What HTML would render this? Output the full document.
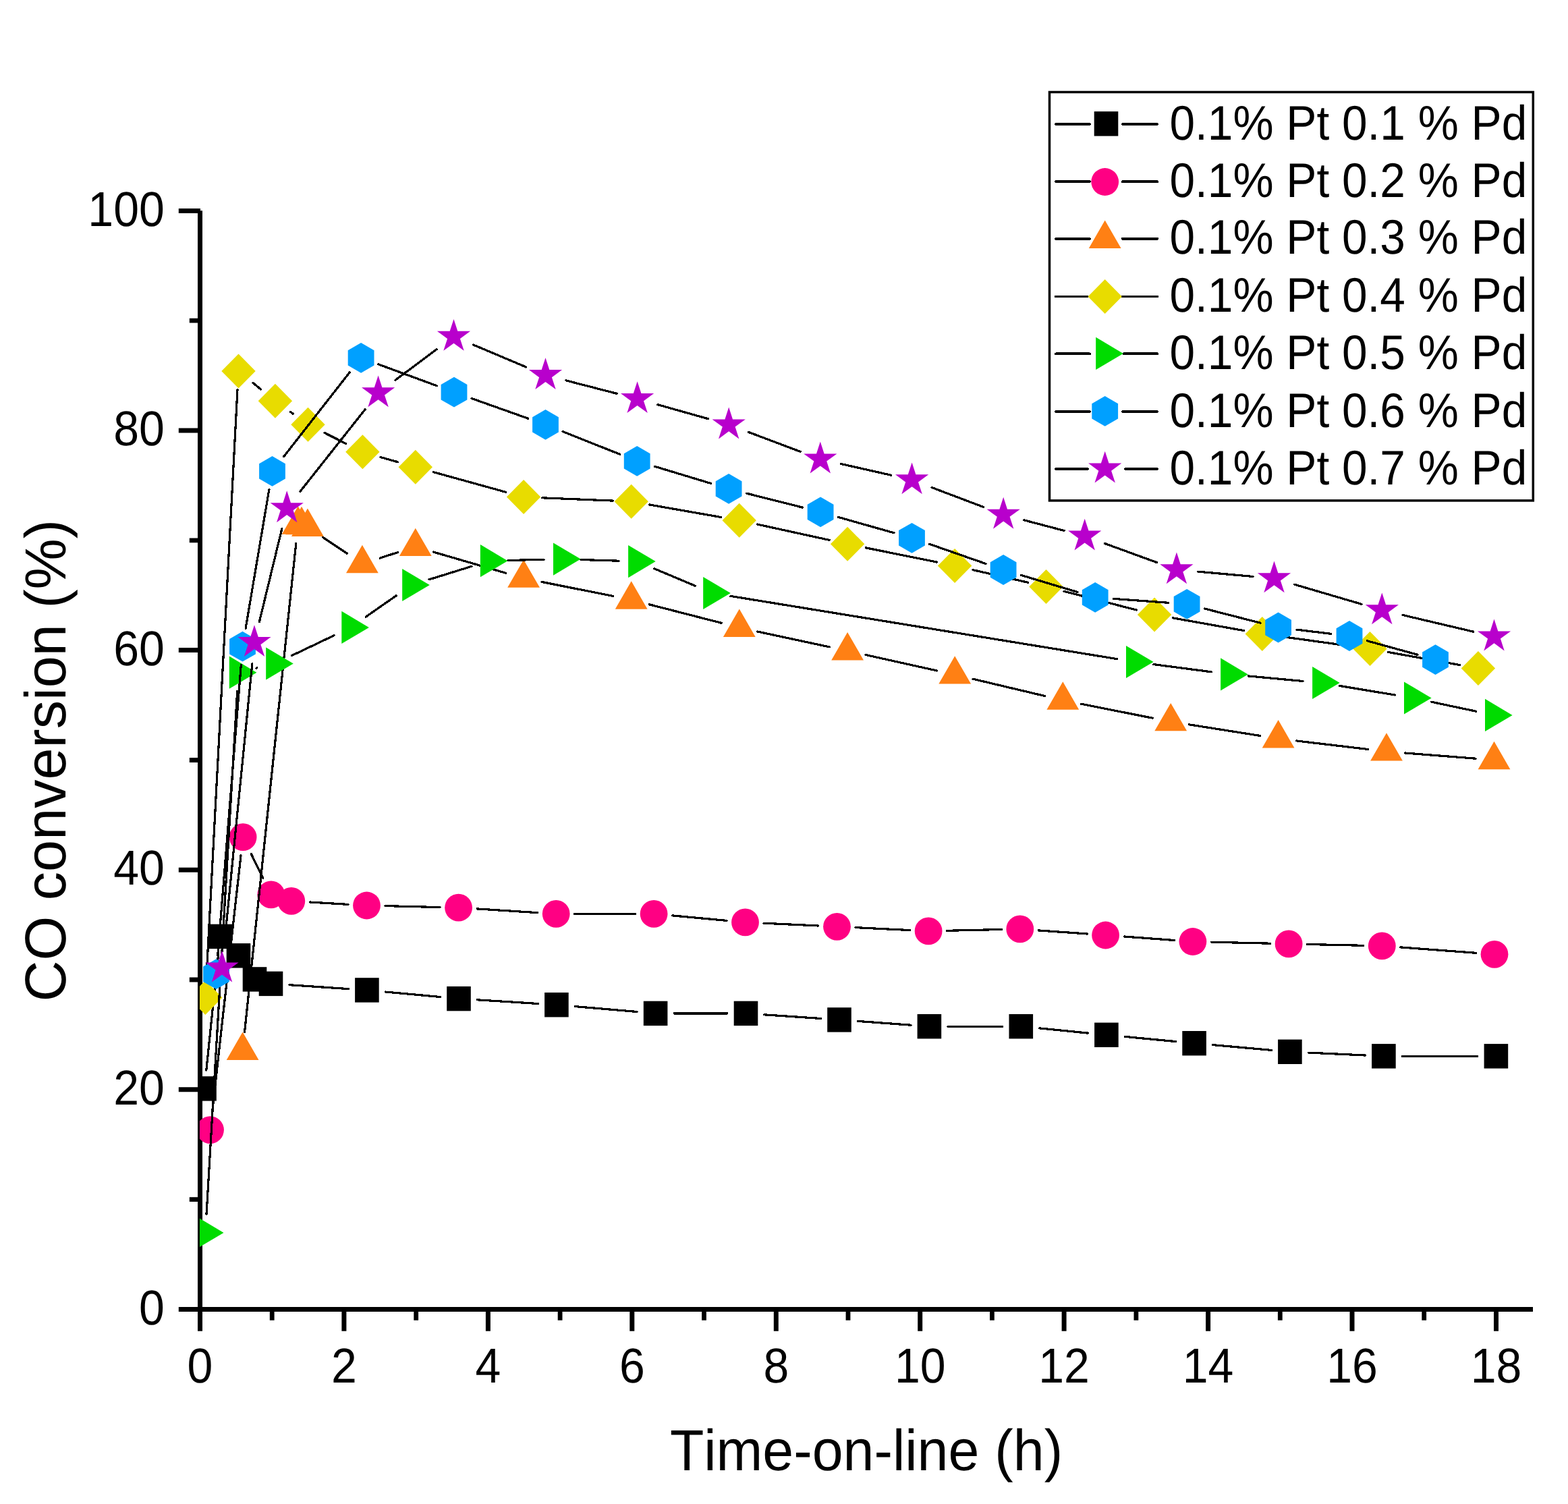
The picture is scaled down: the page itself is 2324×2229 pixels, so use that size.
<!DOCTYPE html>
<html lang="en">
<head>
<meta charset="utf-8">
<title>CO conversion vs Time-on-line</title>
<style>
html,body{margin:0;padding:0;background:#fff;}
body{width:2324px;height:2229px;overflow:hidden;}
svg{display:block;}
svg text{font-family:"Liberation Sans", Arial, Helvetica, sans-serif;fill:#000;font-kerning:none;font-variant-ligatures:none;text-rendering:geometricPrecision;}
</style>
</head>
<body>
<svg width="2324" height="2229" viewBox="0 0 2324 2229" role="img" aria-label="CO conversion versus time-on-line">
<rect x="0" y="0" width="2324" height="2229" fill="#fff"/>
<defs><clipPath id="plotclip"><rect x="296" y="300" width="1980" height="1644"/></clipPath></defs>
<g id="axes">
<path d="M296.5 312.3V1972.8M264.8 1940.4H2272M264.8 1614.8H297M264.8 1289.2H297M264.8 963.6H297M264.8 638H297M264.8 312.5H297M509.9 1940.4V1972.8M723.4 1940.4V1972.8M936.8 1940.4V1972.8M1150.3 1940.4V1972.8M1363.7 1940.4V1972.8M1577.1 1940.4V1972.8M1790.6 1940.4V1972.8M2004 1940.4V1972.8M2217.5 1940.4V1972.8" fill="none" stroke="#000" stroke-width="7.0" stroke-linecap="butt"/>
<path d="M280.8 1777.7H296.5M280.8 1452H296.5M280.8 1126.5H296.5M280.8 800.8H296.5M280.8 475.2H296.5M403.2 1940.4V1956.8M616.7 1940.4V1956.8M830.1 1940.4V1956.8M1043.5 1940.4V1956.8M1257 1940.4V1956.8M1470.4 1940.4V1956.8M1683.9 1940.4V1956.8M1897.3 1940.4V1956.8M2110.7 1940.4V1956.8" fill="none" stroke="#000" stroke-width="6.8" stroke-linecap="butt"/>
</g>
<g id="ticklabels" font-size="68">
<text transform="translate(243.8 1962.5) scale(1 1.067)" text-anchor="end">0</text>
<text transform="translate(243.8 1636.8) scale(1 1.067)" text-anchor="end">20</text>
<text transform="translate(243.8 1311.2) scale(1 1.067)" text-anchor="end">40</text>
<text transform="translate(243.8 985.6) scale(1 1.067)" text-anchor="end">60</text>
<text transform="translate(243.8 660) scale(1 1.067)" text-anchor="end">80</text>
<text transform="translate(243.8 334.5) scale(1 1.067)" text-anchor="end">100</text>
<text transform="translate(296.5 2049.4) scale(1 1.067)" text-anchor="middle">0</text>
<text transform="translate(509.9 2049.4) scale(1 1.067)" text-anchor="middle">2</text>
<text transform="translate(723.4 2049.4) scale(1 1.067)" text-anchor="middle">4</text>
<text transform="translate(936.8 2049.4) scale(1 1.067)" text-anchor="middle">6</text>
<text transform="translate(1150.3 2049.4) scale(1 1.067)" text-anchor="middle">8</text>
<text transform="translate(1363.7 2049.4) scale(1 1.067)" text-anchor="middle">10</text>
<text transform="translate(1577.1 2049.4) scale(1 1.067)" text-anchor="middle">12</text>
<text transform="translate(1790.6 2049.4) scale(1 1.067)" text-anchor="middle">14</text>
<text transform="translate(2004 2049.4) scale(1 1.067)" text-anchor="middle">16</text>
<text transform="translate(2217.5 2049.4) scale(1 1.067)" text-anchor="middle">18</text>
</g>
<g id="titles" font-size="83">
<text transform="translate(1284.0 2178.9) scale(1 1.04)" text-anchor="middle" font-size="82.5">Time-on-line (h)</text>
<text transform="translate(97.3 1127.3) rotate(-90) scale(1 1.015)" text-anchor="middle" font-size="84.6">CO conversion (%)</text>
</g>
<g id="data" clip-path="url(#plotclip)">
<g class="series-black">
<path d="M305.8 1586L323.5 1415.3M428.9 1459.7L516.5 1465.6M571.3 1470L652.6 1477.5M707.4 1481.8L797.5 1487.5M852.3 1491.6L944.2 1499.5M999.1 1501.9L1078 1501.9M1132.9 1503.8L1216.6 1509.5M1271.4 1513.4L1350 1519.2M1404.9 1521.2L1485.8 1521.2M1540.7 1523.9L1612.5 1531.1M1667.3 1536.4L1742.7 1543.6M1797.5 1548.6L1884.5 1556.4M1939.4 1560.1L2023.4 1564M2078.4 1565.3L2189.9 1565.3" fill="none" stroke="#000" stroke-width="3.2" stroke-linecap="round" shape-rendering="crispEdges"/>
<rect x="285.2" y="1595.2" width="35.6" height="36.4" fill="#000000"/>
<rect x="308.5" y="1369.7" width="35.6" height="36.4" fill="#000000"/>
<rect x="335.7" y="1398.1" width="35.6" height="36.4" fill="#000000"/>
<rect x="359.7" y="1433.2" width="35.6" height="36.4" fill="#000000"/>
<rect x="383.7" y="1439.7" width="35.6" height="36.4" fill="#000000"/>
<rect x="526.1" y="1449.2" width="35.6" height="36.4" fill="#000000"/>
<rect x="662.2" y="1461.9" width="35.6" height="36.4" fill="#000000"/>
<rect x="807.1" y="1471" width="35.6" height="36.4" fill="#000000"/>
<rect x="953.8" y="1483.7" width="35.6" height="36.4" fill="#000000"/>
<rect x="1087.7" y="1483.7" width="35.6" height="36.4" fill="#000000"/>
<rect x="1226.2" y="1493.2" width="35.6" height="36.4" fill="#000000"/>
<rect x="1359.6" y="1503" width="35.6" height="36.4" fill="#000000"/>
<rect x="1495.5" y="1503" width="35.6" height="36.4" fill="#000000"/>
<rect x="1622.1" y="1515.6" width="35.6" height="36.4" fill="#000000"/>
<rect x="1752.3" y="1528" width="35.6" height="36.4" fill="#000000"/>
<rect x="1894.1" y="1540.6" width="35.6" height="36.4" fill="#000000"/>
<rect x="2033.1" y="1547.1" width="35.6" height="36.4" fill="#000000"/>
<rect x="2199.6" y="1547.1" width="35.6" height="36.4" fill="#000000"/>
</g>
<g class="series-pink">
<path d="M314.6 1647.3L357 1267.9M372.2 1265.3L389.7 1301.2M459.3 1337L516 1340.4M571 1342.6L652.1 1344.6M707 1346.9L796.8 1352.7M851.7 1354.4L941.6 1354.4M996.5 1356.9L1077.1 1364.4M1132 1368.2L1213 1372M1268 1374.6L1348.6 1378.6M1403.6 1379.3L1484.3 1377.5M1539.2 1378.9L1611.2 1384M1666 1388L1740.5 1393.5M1795.4 1396.2L1882.6 1398.2M1937.6 1399.5L2020.8 1401.3M2075.7 1403.9L2187.6 1412.3" fill="none" stroke="#000" stroke-width="3.2" stroke-linecap="round" shape-rendering="crispEdges"/>
<circle cx="311.5" cy="1674.6" r="20.4" fill="#FF0083"/>
<circle cx="360.1" cy="1240.6" r="20.4" fill="#FF0083"/>
<circle cx="401.8" cy="1325.9" r="20.4" fill="#FF0083"/>
<circle cx="431.8" cy="1335.4" r="20.4" fill="#FF0083"/>
<circle cx="543.5" cy="1342" r="20.4" fill="#FF0083"/>
<circle cx="679.6" cy="1345.2" r="20.4" fill="#FF0083"/>
<circle cx="824.2" cy="1354.4" r="20.4" fill="#FF0083"/>
<circle cx="969.1" cy="1354.4" r="20.4" fill="#FF0083"/>
<circle cx="1104.5" cy="1366.9" r="20.4" fill="#FF0083"/>
<circle cx="1240.5" cy="1373.3" r="20.4" fill="#FF0083"/>
<circle cx="1376.1" cy="1379.9" r="20.4" fill="#FF0083"/>
<circle cx="1511.8" cy="1376.9" r="20.4" fill="#FF0083"/>
<circle cx="1638.6" cy="1386" r="20.4" fill="#FF0083"/>
<circle cx="1767.9" cy="1395.5" r="20.4" fill="#FF0083"/>
<circle cx="1910.1" cy="1398.9" r="20.4" fill="#FF0083"/>
<circle cx="2048.3" cy="1401.9" r="20.4" fill="#FF0083"/>
<circle cx="2215" cy="1414.3" r="20.4" fill="#FF0083"/>
</g>
<g class="series-orange">
<path d="M362.5 1529.9L438.8 805.2M478.7 796.4L514.1 820.1M563.1 827.1L589.6 818.6M642.2 818L749.7 849.3M803.1 862.4L908.7 883.5M962.3 895.8L1069.2 923.3M1122.7 936L1229.2 958.8M1283 970.5L1388.3 993.9M1442 1006.2L1548.5 1031.5M1602.3 1043.2L1708.2 1064.2M1762.4 1073.8L1867.4 1090.4M1921.9 1098L2027.7 1110.5M2082.4 1116L2187.1 1124.2" fill="none" stroke="#000" stroke-width="3.2" stroke-linecap="round" shape-rendering="crispEdges"/>
<polygon points="359.6,1529.6 383.5,1571 335.7,1571" fill="#FF8014"/>
<polygon points="441.7,750.3 465.6,791.7 417.8,791.7" fill="#FF8014"/>
<polygon points="447,750.8 470.9,792.2 423.1,792.2" fill="#FF8014"/>
<polygon points="455.9,753.5 479.8,794.9 432,794.9" fill="#FF8014"/>
<polygon points="536.9,807.8 560.8,849.2 513,849.2" fill="#FF8014"/>
<polygon points="615.8,782.7 639.7,824.1 591.9,824.1" fill="#FF8014"/>
<polygon points="776.1,829.4 800,870.8 752.2,870.8" fill="#FF8014"/>
<polygon points="935.7,861.3 959.6,902.7 911.8,902.7" fill="#FF8014"/>
<polygon points="1095.8,902.6 1119.7,944 1071.9,944" fill="#FF8014"/>
<polygon points="1256.1,937 1280,978.4 1232.2,978.4" fill="#FF8014"/>
<polygon points="1415.2,972.2 1439.1,1013.6 1391.3,1013.6" fill="#FF8014"/>
<polygon points="1575.3,1010.3 1599.2,1051.7 1551.4,1051.7" fill="#FF8014"/>
<polygon points="1735.2,1041.9 1759.1,1083.3 1711.3,1083.3" fill="#FF8014"/>
<polygon points="1894.6,1067.1 1918.5,1108.5 1870.7,1108.5" fill="#FF8014"/>
<polygon points="2055,1086.2 2078.9,1127.6 2031.1,1127.6" fill="#FF8014"/>
<polygon points="2214.5,1098.8 2238.4,1140.2 2190.6,1140.2" fill="#FF8014"/>
</g>
<g class="series-yellow">
<path d="M305.8 1451L352 577.6M374.9 567.4L386.5 576.9M430.2 610.3L434.2 613.1M481.1 641.5L512.8 657.5M563.8 677.4L589.4 684.7M642.3 699.6L749.6 729.3M803.6 737.8L908.2 742.1M962.8 748L1068.6 766.5M1122.6 777.1L1229.2 800.4M1283.1 811.8L1388.1 833M1441.9 844.6L1523.7 863.3M1577.1 876.3L1684.5 904.1M1738.2 915.8L1843.7 934.6M1898 943.2L2003.3 957.8M2057.6 966.5L2163.8 985.6" fill="none" stroke="#000" stroke-width="3.2" stroke-linecap="round" shape-rendering="crispEdges"/>
<polygon points="304.3,1453 329.5,1478.5 304.3,1504 279.1,1478.5" fill="#E8DC00"/>
<polygon points="353.5,524.6 378.7,550.1 353.5,575.6 328.3,550.1" fill="#E8DC00"/>
<polygon points="407.9,568.7 433.1,594.2 407.9,619.7 382.7,594.2" fill="#E8DC00"/>
<polygon points="456.5,603.7 481.7,629.2 456.5,654.7 431.3,629.2" fill="#E8DC00"/>
<polygon points="537.4,644.3 562.6,669.8 537.4,695.3 512.2,669.8" fill="#E8DC00"/>
<polygon points="615.8,666.8 641,692.3 615.8,717.8 590.6,692.3" fill="#E8DC00"/>
<polygon points="776.1,711.1 801.3,736.6 776.1,762.1 750.9,736.6" fill="#E8DC00"/>
<polygon points="935.7,717.8 960.9,743.3 935.7,768.8 910.5,743.3" fill="#E8DC00"/>
<polygon points="1095.7,745.7 1120.9,771.2 1095.7,796.7 1070.5,771.2" fill="#E8DC00"/>
<polygon points="1256.1,780.8 1281.3,806.3 1256.1,831.8 1230.9,806.3" fill="#E8DC00"/>
<polygon points="1415.1,813 1440.3,838.5 1415.1,864 1389.9,838.5" fill="#E8DC00"/>
<polygon points="1550.5,843.9 1575.7,869.4 1550.5,894.9 1525.3,869.4" fill="#E8DC00"/>
<polygon points="1711.1,885.5 1736.3,911 1711.1,936.5 1685.9,911" fill="#E8DC00"/>
<polygon points="1870.8,913.9 1896,939.4 1870.8,964.9 1845.6,939.4" fill="#E8DC00"/>
<polygon points="2030.5,936.1 2055.7,961.6 2030.5,987.1 2005.3,961.6" fill="#E8DC00"/>
<polygon points="2190.9,965 2216.1,990.5 2190.9,1016 2165.7,990.5" fill="#E8DC00"/>
</g>
<g class="series-green">
<path d="M306 1799.4L351.7 1024.2M380 990.2L381 990M432.5 971.6L495 941.8M542.3 914.1L587.2 882.8M636 858.9L699.1 839.3M752.9 830.5L806 829.3M861 829.5L917.1 831.2M969.9 842.8L1030.4 868.3M1082.8 883.4L1655.4 976.6M1709.8 984.6L1795.3 995.8M1850 1001.9L1931.2 1009.5M1985.7 1016.5L2067.4 1030M2121.4 1040.2L2187.6 1054.2" fill="none" stroke="#000" stroke-width="3.2" stroke-linecap="round" shape-rendering="crispEdges"/>
<polygon points="331.5,1826.9 290.9,1802.8 290.9,1851" fill="#00DC00"/>
<polygon points="380.4,996.7 339.8,972.6 339.8,1020.8" fill="#00DC00"/>
<polygon points="434.8,983.5 394.2,959.4 394.2,1007.6" fill="#00DC00"/>
<polygon points="546.9,929.9 506.3,905.8 506.3,954" fill="#00DC00"/>
<polygon points="636.8,867 596.2,842.9 596.2,891.1" fill="#00DC00"/>
<polygon points="752.5,831.2 711.9,807.1 711.9,855.3" fill="#00DC00"/>
<polygon points="860.6,828.6 820,804.5 820,852.7" fill="#00DC00"/>
<polygon points="971.7,832.1 931.1,808 931.1,856.2" fill="#00DC00"/>
<polygon points="1082.8,879 1042.2,854.9 1042.2,903.1" fill="#00DC00"/>
<polygon points="1709.6,981 1669,956.9 1669,1005.1" fill="#00DC00"/>
<polygon points="1849.7,999.4 1809.1,975.3 1809.1,1023.5" fill="#00DC00"/>
<polygon points="1985.7,1012 1945.1,987.9 1945.1,1036.1" fill="#00DC00"/>
<polygon points="2121.6,1034.5 2081,1010.4 2081,1058.6" fill="#00DC00"/>
<polygon points="2241.6,1059.9 2201,1035.8 2201,1084" fill="#00DC00"/>
</g>
<g class="series-blue">
<path d="M322.7 1416.3L357.3 985.6M364.1 931.1L398.9 725.5M420.5 676.8L518.1 552M560.9 539.9L647.2 571.7M698.9 590.4L782.6 620.2M834.1 639.6L918.6 673.2M970.5 691.3L1053.8 716.5M1106.8 731.2L1189.4 752.1M1242.6 766.4L1325 789.8M1377.5 806.3L1461.1 835.5M1513.4 852.4L1596.9 877.5M1650.6 887.4L1731.7 893.3M1785.7 902.1L1868 923.2M1921.9 933.2L1972.7 939.3M2026.5 949.8L2101 970.3" fill="none" stroke="#000" stroke-width="3.2" stroke-linecap="round" shape-rendering="crispEdges"/>
<polygon points="320.5,1421.3 339.9,1432.5 339.9,1454.9 320.5,1466.1 301.1,1454.9 301.1,1432.5" fill="#00A0FF"/>
<polygon points="359.5,935.8 378.9,947 378.9,969.4 359.5,980.6 340.1,969.4 340.1,947" fill="#00A0FF"/>
<polygon points="403.5,676 422.9,687.2 422.9,709.6 403.5,720.8 384.1,709.6 384.1,687.2" fill="#00A0FF"/>
<polygon points="535.1,508 554.5,519.2 554.5,541.6 535.1,552.8 515.7,541.6 515.7,519.2" fill="#00A0FF"/>
<polygon points="673,558.8 692.4,570 692.4,592.4 673,603.6 653.6,592.4 653.6,570" fill="#00A0FF"/>
<polygon points="808.5,607 827.9,618.2 827.9,640.6 808.5,651.8 789.1,640.6 789.1,618.2" fill="#00A0FF"/>
<polygon points="944.2,661 963.6,672.2 963.6,694.6 944.2,705.8 924.8,694.6 924.8,672.2" fill="#00A0FF"/>
<polygon points="1080.1,702 1099.5,713.2 1099.5,735.6 1080.1,746.8 1060.7,735.6 1060.7,713.2" fill="#00A0FF"/>
<polygon points="1216.1,736.5 1235.5,747.7 1235.5,770.1 1216.1,781.3 1196.7,770.1 1196.7,747.7" fill="#00A0FF"/>
<polygon points="1351.5,774.9 1370.9,786.1 1370.9,808.5 1351.5,819.7 1332.1,808.5 1332.1,786.1" fill="#00A0FF"/>
<polygon points="1487.1,822.1 1506.5,833.3 1506.5,855.7 1487.1,866.9 1467.7,855.7 1467.7,833.3" fill="#00A0FF"/>
<polygon points="1623.2,863 1642.6,874.2 1642.6,896.6 1623.2,907.8 1603.8,896.6 1603.8,874.2" fill="#00A0FF"/>
<polygon points="1759.1,872.9 1778.5,884.1 1778.5,906.5 1759.1,917.7 1739.7,906.5 1739.7,884.1" fill="#00A0FF"/>
<polygon points="1894.6,907.6 1914,918.8 1914,941.2 1894.6,952.4 1875.2,941.2 1875.2,918.8" fill="#00A0FF"/>
<polygon points="2000,920.1 2019.4,931.3 2019.4,953.7 2000,964.9 1980.6,953.7 1980.6,931.3" fill="#00A0FF"/>
<polygon points="2127.5,955.2 2146.9,966.4 2146.9,988.8 2127.5,1000 2108.1,988.8 2108.1,966.4" fill="#00A0FF"/>
</g>
<g class="series-purple">
<path d="M332.1 1403.2L373.9 983.4M384.4 921.5L417.8 783.8M444.8 728.5L541 607M585.8 563.5L647.3 517.6M701.5 511L779.5 543.9M839 563.9L914.1 583.3M974.9 599.7L1049.9 620.8M1109.7 640.5L1186.3 669.4M1246.5 687.5L1320.9 704.3M1381.1 722.5L1457.7 751.5M1517.7 770.8L1577.2 786.5M1637.3 805.4L1714.3 833.5M1775.3 847.1L1857.1 854.5M1918.7 866.2L2018.1 895.4M2079 911.5L2183.8 936.2" fill="none" stroke="#000" stroke-width="3.2" stroke-linecap="round" shape-rendering="crispEdges"/>
<polygon points="329,1408.6 334.8,1426.5 353.6,1426.5 338.4,1437.6 344.2,1455.5 329,1444.4 313.8,1455.5 319.6,1437.6 304.4,1426.5 323.2,1426.5" fill="#B800CC"/>
<polygon points="377,926.2 382.8,944.1 401.6,944.1 386.4,955.2 392.2,973.1 377,962 361.8,973.1 367.6,955.2 352.4,944.1 371.2,944.1" fill="#B800CC"/>
<polygon points="425.2,727.3 431,745.2 449.8,745.2 434.6,756.3 440.4,774.2 425.2,763.1 410,774.2 415.8,756.3 400.6,745.2 419.4,745.2" fill="#B800CC"/>
<polygon points="560.6,556.4 566.4,574.3 585.2,574.3 570,585.4 575.8,603.3 560.6,592.2 545.4,603.3 551.2,585.4 536,574.3 554.8,574.3" fill="#B800CC"/>
<polygon points="672.5,472.9 678.3,490.8 697.1,490.8 681.9,501.9 687.7,519.8 672.5,508.7 657.3,519.8 663.1,501.9 647.9,490.8 666.7,490.8" fill="#B800CC"/>
<polygon points="808.5,530.2 814.3,548.1 833.1,548.1 817.9,559.2 823.7,577.1 808.5,566 793.3,577.1 799.1,559.2 783.9,548.1 802.7,548.1" fill="#B800CC"/>
<polygon points="944.6,565.2 950.4,583.1 969.2,583.1 954,594.2 959.8,612.1 944.6,601 929.4,612.1 935.2,594.2 920,583.1 938.8,583.1" fill="#B800CC"/>
<polygon points="1080.2,603.5 1086,621.4 1104.8,621.4 1089.6,632.5 1095.4,650.4 1080.2,639.3 1065,650.4 1070.8,632.5 1055.6,621.4 1074.4,621.4" fill="#B800CC"/>
<polygon points="1215.8,654.6 1221.6,672.5 1240.4,672.5 1225.2,683.6 1231,701.5 1215.8,690.4 1200.6,701.5 1206.4,683.6 1191.2,672.5 1210,672.5" fill="#B800CC"/>
<polygon points="1351.6,685.4 1357.4,703.3 1376.2,703.3 1361,714.4 1366.8,732.3 1351.6,721.2 1336.4,732.3 1342.2,714.4 1327,703.3 1345.8,703.3" fill="#B800CC"/>
<polygon points="1487.2,736.8 1493,754.7 1511.8,754.7 1496.6,765.8 1502.4,783.7 1487.2,772.6 1472,783.7 1477.8,765.8 1462.6,754.7 1481.4,754.7" fill="#B800CC"/>
<polygon points="1607.7,768.7 1613.5,786.6 1632.3,786.6 1617.1,797.7 1622.9,815.6 1607.7,804.5 1592.5,815.6 1598.3,797.7 1583.1,786.6 1601.9,786.6" fill="#B800CC"/>
<polygon points="1743.9,818.4 1749.7,836.3 1768.5,836.3 1753.3,847.4 1759.1,865.3 1743.9,854.2 1728.7,865.3 1734.5,847.4 1719.3,836.3 1738.1,836.3" fill="#B800CC"/>
<polygon points="1888.5,831.4 1894.3,849.3 1913.1,849.3 1897.9,860.4 1903.7,878.3 1888.5,867.2 1873.3,878.3 1879.1,860.4 1863.9,849.3 1882.7,849.3" fill="#B800CC"/>
<polygon points="2048.3,878.4 2054.1,896.3 2072.9,896.3 2057.7,907.4 2063.5,925.3 2048.3,914.2 2033.1,925.3 2038.9,907.4 2023.7,896.3 2042.5,896.3" fill="#B800CC"/>
<polygon points="2214.5,917.5 2220.3,935.4 2239.1,935.4 2223.9,946.5 2229.7,964.4 2214.5,953.3 2199.3,964.4 2205.1,946.5 2189.9,935.4 2208.7,935.4" fill="#B800CC"/>
</g>
</g>
<g id="legend">
<rect x="1555.5" y="136.5" width="716.8" height="605.4" fill="#fff" stroke="#000" stroke-width="3.5"/>
<path d="M1565 184H1615M1663.9 184H1715.1" fill="none" stroke="#000" stroke-width="3.9" stroke-linecap="round" shape-rendering="crispEdges"/>
<rect x="1621.7" y="165.2" width="35.6" height="36.4" fill="#000000"/>
<text transform="translate(1733.5 206.5) scale(1 1.067)" font-size="67.6">0.1% Pt 0.1 % Pd</text>
<path d="M1565 269.1H1615M1663.9 269.1H1715.1" fill="none" stroke="#000" stroke-width="3.9" stroke-linecap="round" shape-rendering="crispEdges"/>
<circle cx="1637.7" cy="269.5" r="20.4" fill="#FF0083"/>
<text transform="translate(1733.5 291.6) scale(1 1.067)" font-size="67.6">0.1% Pt 0.2 % Pd</text>
<path d="M1565 353.9H1615M1663.9 353.9H1715.1" fill="none" stroke="#000" stroke-width="3.9" stroke-linecap="round" shape-rendering="crispEdges"/>
<polygon points="1637.7,326.6 1661.6,368 1613.8,368" fill="#FF8014"/>
<text transform="translate(1733.5 376.4) scale(1 1.067)" font-size="67.6">0.1% Pt 0.3 % Pd</text>
<path d="M1565 439.5H1611.7M1664.1 439.5H1715.1" fill="none" stroke="#000" stroke-width="3.9" stroke-linecap="round" shape-rendering="crispEdges"/>
<polygon points="1637.7,414 1662.9,439.5 1637.7,465 1612.5,439.5" fill="#E8DC00"/>
<text transform="translate(1733.5 462) scale(1 1.067)" font-size="67.6">0.1% Pt 0.4 % Pd</text>
<path d="M1565 524.3H1615M1665.9 524.3H1715.1" fill="none" stroke="#000" stroke-width="3.9" stroke-linecap="round" shape-rendering="crispEdges"/>
<polygon points="1664.8,523.9 1624.2,499.8 1624.2,548" fill="#00DC00"/>
<text transform="translate(1733.5 546.8) scale(1 1.067)" font-size="67.6">0.1% Pt 0.5 % Pd</text>
<path d="M1565 610H1615M1663.9 610H1715.1" fill="none" stroke="#000" stroke-width="3.9" stroke-linecap="round" shape-rendering="crispEdges"/>
<polygon points="1637.7,587 1657.1,598.2 1657.1,620.6 1637.7,631.8 1618.3,620.6 1618.3,598.2" fill="#00A0FF"/>
<text transform="translate(1733.5 632.5) scale(1 1.067)" font-size="67.6">0.1% Pt 0.6 % Pd</text>
<path d="M1565 695H1612M1668.1 695H1715.1" fill="none" stroke="#000" stroke-width="3.9" stroke-linecap="round" shape-rendering="crispEdges"/>
<polygon points="1637.7,668.7 1643.5,686.6 1662.3,686.6 1647.1,697.7 1652.9,715.6 1637.7,704.5 1622.5,715.6 1628.3,697.7 1613.1,686.6 1631.9,686.6" fill="#B800CC"/>
<text transform="translate(1733.5 717.5) scale(1 1.067)" font-size="67.6">0.1% Pt 0.7 % Pd</text>
</g>
</svg>
</body>
</html>
